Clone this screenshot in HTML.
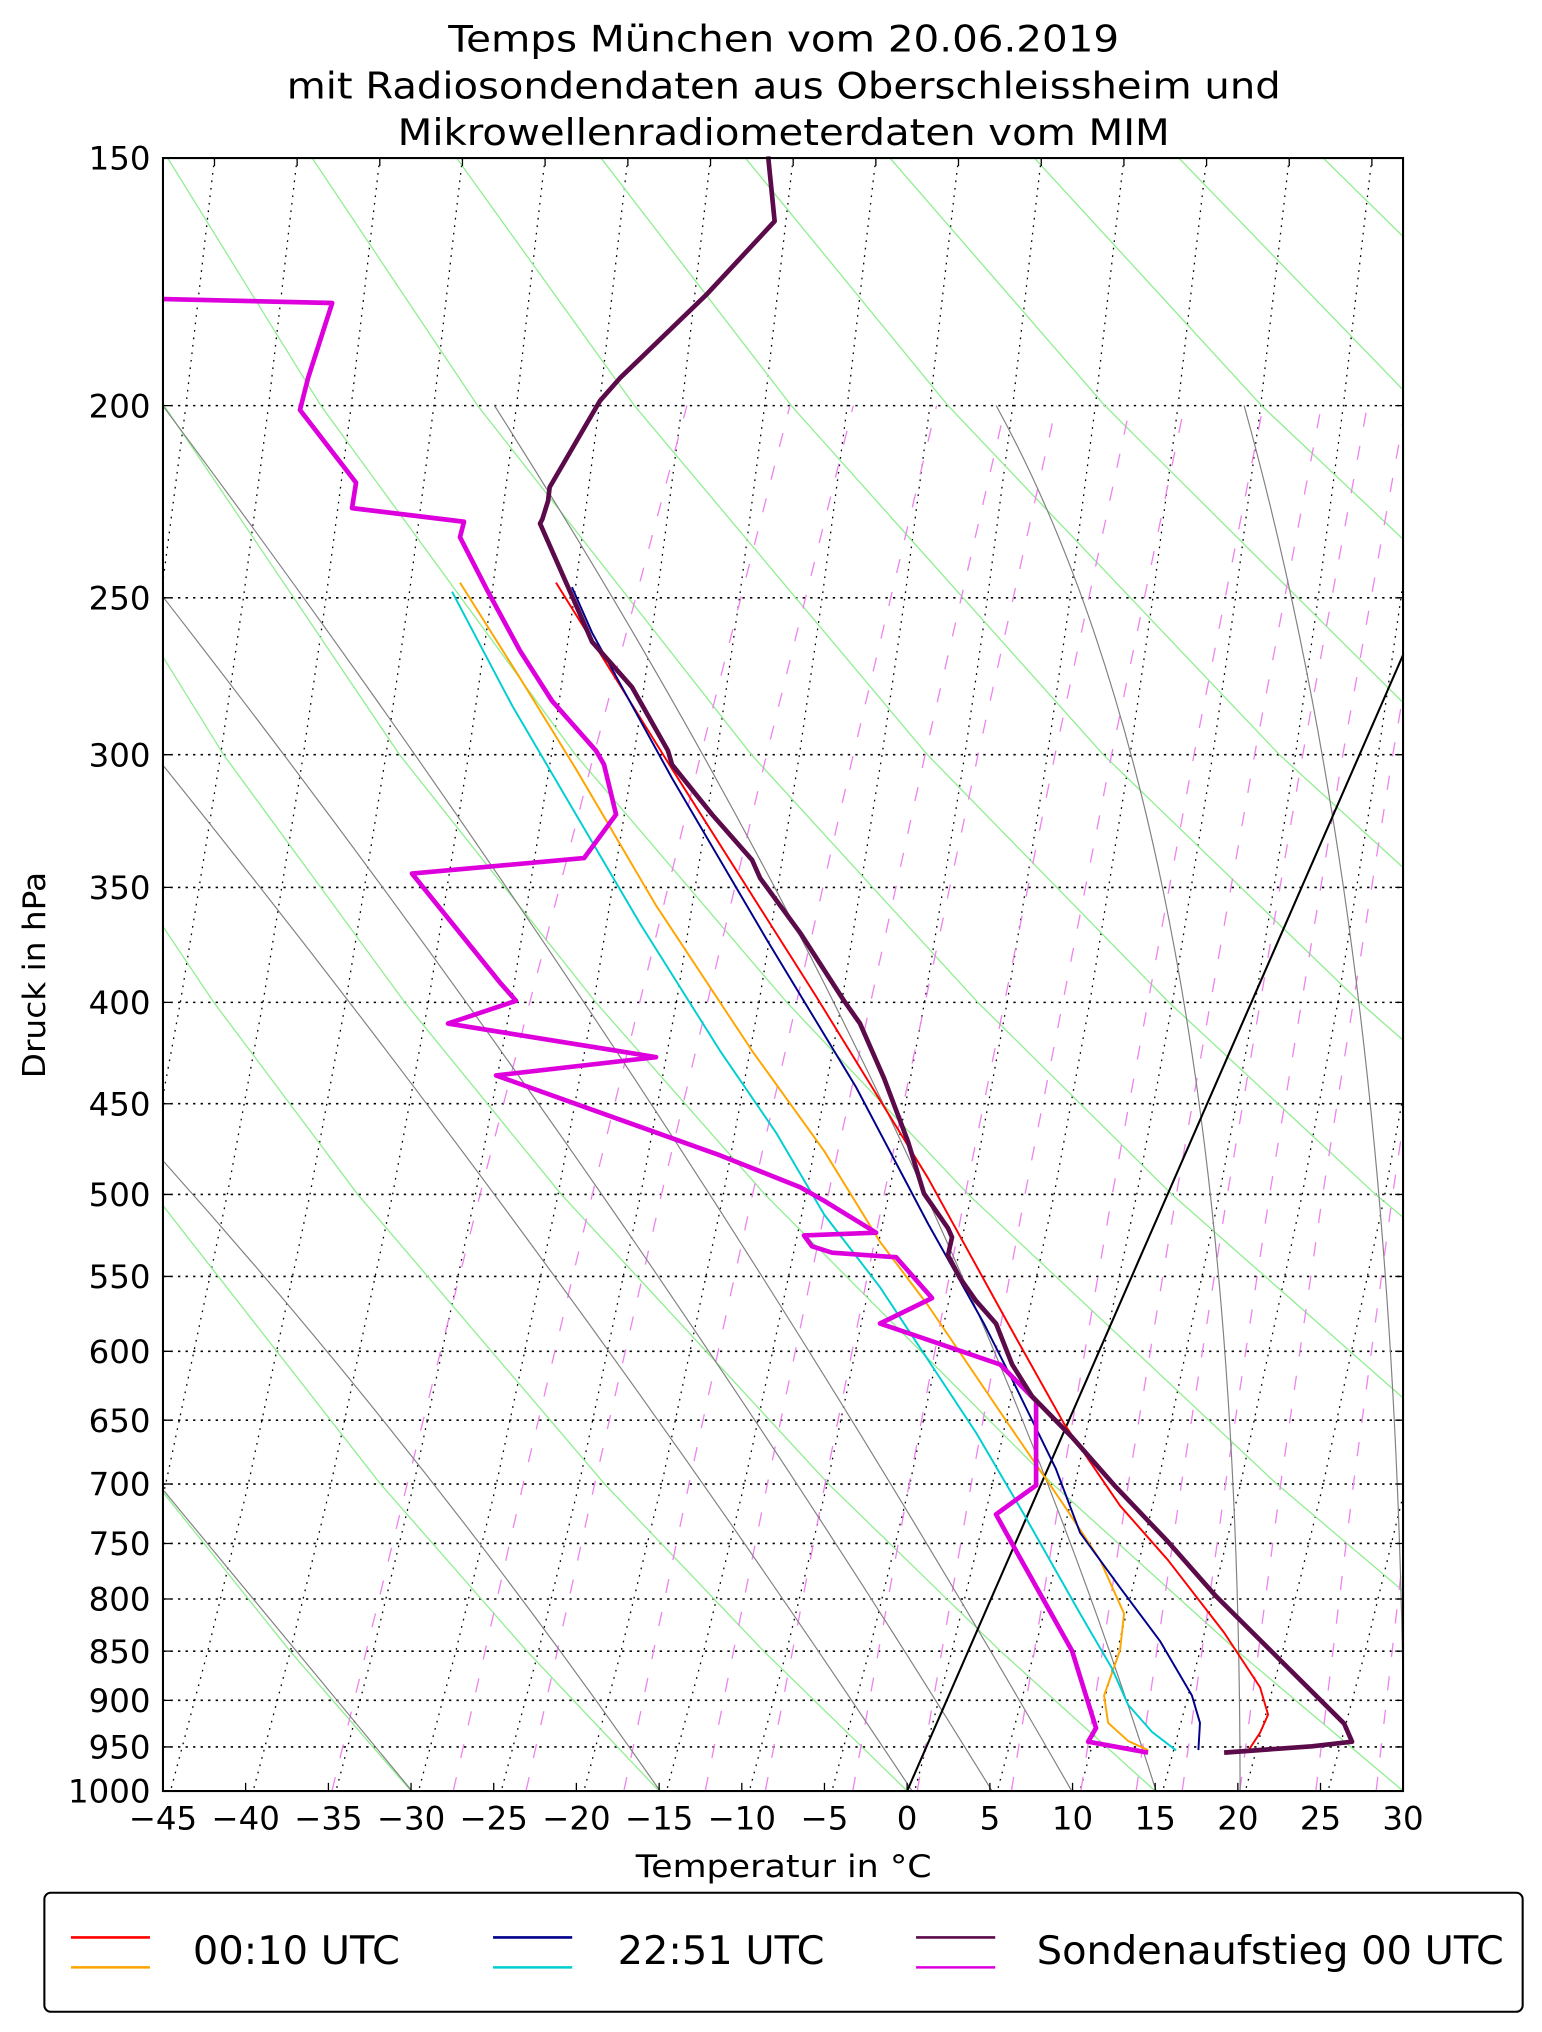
<!DOCTYPE html>
<html><head><meta charset="utf-8"><style>
html,body{margin:0;padding:0;background:#fff;}
svg{display:block;}
text{font-family:"DejaVu Sans","Liberation Sans",sans-serif;fill:#000;}
</style></head><body>
<svg xmlns="http://www.w3.org/2000/svg" xmlns:xlink="http://www.w3.org/1999/xlink" width="1542" height="2032" viewBox="0 0 1188.4 1566" preserveAspectRatio="none">
<defs>
<clipPath id="c"><rect x="125.6" y="121.8" width="955.7" height="1258.5"/></clipPath>
<polyline id="dl" points="0,121.8 -22,312.6 -41.4,460.7 -58.9,581.6 -90,772.5 -117.5,920.5 -165,1143.7 -196.3,1272.5 -225,1380.3" fill="none" stroke="#000" stroke-width="1" stroke-dasharray="1.3,4.5"/>
</defs>
<rect x="0" y="0" width="1188.4" height="1566" fill="#fff"/>
<g clip-path="url(#c)">
<!-- horizontal dotted -->
<g stroke="#000" stroke-width="1.2" stroke-dasharray="1.8,4">
<line x1="125.6" x2="1081.3" y1="312.6" y2="312.6"/><line x1="125.6" x2="1081.3" y1="460.7" y2="460.7"/><line x1="125.6" x2="1081.3" y1="581.6" y2="581.6"/><line x1="125.6" x2="1081.3" y1="683.9" y2="683.9"/><line x1="125.6" x2="1081.3" y1="772.5" y2="772.5"/><line x1="125.6" x2="1081.3" y1="850.6" y2="850.6"/><line x1="125.6" x2="1081.3" y1="920.5" y2="920.5"/><line x1="125.6" x2="1081.3" y1="983.7" y2="983.7"/><line x1="125.6" x2="1081.3" y1="1041.4" y2="1041.4"/><line x1="125.6" x2="1081.3" y1="1094.5" y2="1094.5"/><line x1="125.6" x2="1081.3" y1="1143.7" y2="1143.7"/><line x1="125.6" x2="1081.3" y1="1189.5" y2="1189.5"/><line x1="125.6" x2="1081.3" y1="1232.3" y2="1232.3"/><line x1="125.6" x2="1081.3" y1="1272.5" y2="1272.5"/><line x1="125.6" x2="1081.3" y1="1310.4" y2="1310.4"/><line x1="125.6" x2="1081.3" y1="1346.3" y2="1346.3"/>
</g>
<!-- skewed dotted -->
<use xlink:href="#dl" href="#dl" x="1248.5"/><use xlink:href="#dl" href="#dl" x="1184.8"/><use xlink:href="#dl" href="#dl" x="1121.1"/><use xlink:href="#dl" href="#dl" x="1057.3"/><use xlink:href="#dl" href="#dl" x="993.6"/><use xlink:href="#dl" href="#dl" x="929.9"/><use xlink:href="#dl" href="#dl" x="866.2"/><use xlink:href="#dl" href="#dl" x="802.5"/><use xlink:href="#dl" href="#dl" x="738.7"/><use xlink:href="#dl" href="#dl" x="675.0"/><use xlink:href="#dl" href="#dl" x="611.3"/><use xlink:href="#dl" href="#dl" x="547.6"/><use xlink:href="#dl" href="#dl" x="483.9"/><use xlink:href="#dl" href="#dl" x="420.1"/><use xlink:href="#dl" href="#dl" x="356.4"/><use xlink:href="#dl" href="#dl" x="292.7"/><use xlink:href="#dl" href="#dl" x="229.0"/><use xlink:href="#dl" href="#dl" x="165.3"/>
<!-- green dry adiabats -->
<g fill="none" stroke="#90ee90" stroke-width="1">
<polyline points="316.8,1380.3 223.6,1272.5 120.6,1143.7 -38,920.5"/>
<polyline points="508.0,1380.3 406.1,1272.5 293.3,1143.7 118.8,920.5 17.6,772.5"/>
<polyline points="699.2,1380.3 588.6,1272.5 466.0,1143.7 275.7,920.5 164.8,772.5 36.7,581.6"/>
<polyline points="890.3,1380.3 771.1,1272.5 638.6,1143.7 432.6,920.5 312.0,772.5 172.3,581.6 5.6,312.6"/>
<polyline points="1081.4,1380.3 953.6,1272.5 811.3,1143.7 589.5,920.5 459.2,772.5 307.9,581.6 126.5,312.6 17.9,121.8"/>
<polyline points="1272.6,1380.3 1136.1,1272.5 984.0,1143.7 746.3,920.5 606.4,772.5 443.5,581.6 247.3,312.6 129.2,121.8"/>
<polyline points="1318.6,1272.5 1156.6,1143.7 903.2,920.5 753.6,772.5 579.1,581.6 368.1,312.6 240.6,121.8"/>
<polyline points="1329.3,1143.7 1060.1,920.5 900.9,772.5 714.7,581.6 489.0,312.6 351.9,121.8"/>
<polyline points="1501.9,1143.7 1216.9,920.5 1048.1,772.5 850.3,581.6 609.8,312.6 463.2,121.8"/>
<polyline points="1373.8,920.5 1195.3,772.5 986.0,581.6 730.6,312.6 574.5,121.8"/>
<polyline points="1342.6,772.5 1121.6,581.6 851.5,312.6 685.9,121.8"/>
<polyline points="1257.2,581.6 972.3,312.6 797.2,121.8"/>
<polyline points="1392.8,581.6 1093.1,312.6 908.5,121.8"/>
<polyline points="1213.9,312.6 1019.8,121.8"/>
<polyline points="1334.7,312.6 1131.1,121.8"/>
</g>
<!-- mixing ratio -->
<g fill="none" stroke="#ee82ee" stroke-width="1" stroke-dasharray="11,15">
<polyline points="255.8,1380.3 313.8,1143.7 370.0,920.5 457.7,581.6 529.4,312.6"/>
<polyline points="349.3,1380.3 403.2,1143.7 456.5,920.5 540.1,581.6 608.8,312.6"/>
<polyline points="405.4,1380.3 458.3,1143.7 509.8,920.5 590.8,581.6 657.6,312.6"/>
<polyline points="480.8,1380.3 531.0,1143.7 580.0,920.5 657.6,581.6 721.8,312.6"/>
<polyline points="543.5,1380.3 591.4,1143.7 638.4,920.5 713.0,581.6 775.0,312.6"/>
<polyline points="589.8,1380.3 635.8,1143.7 681.4,920.5 753.8,581.6 814.1,312.6"/>
<polyline points="657.2,1380.3 700.7,1143.7 743.9,920.5 813.1,581.6 871.1,312.6"/>
<polyline points="706.9,1380.3 748.5,1143.7 789.9,920.5 856.7,581.6 912.9,312.6"/>
<polyline points="779.5,1380.3 818.3,1143.7 857.2,920.5 920.2,581.6 973.6,312.6"/>
<polyline points="833.0,1380.3 869.6,1143.7 906.6,920.5 966.9,581.6 1018.4,312.6"/>
<polyline points="875.6,1380.3 910.5,1143.7 945.9,920.5 1004.0,581.6 1053.8,312.6"/>
<polyline points="911.1,1380.3 944.5,1143.7 978.5,920.5 1034.9,581.6 1083.4,312.6"/>
<polyline points="955.5,1380.3 987.0,1143.7 1019.4,920.5 1073.4,581.6 1120.2,312.6"/>
<polyline points="1014.1,1380.3 1043.1,1143.7 1073.3,920.5 1124.2,581.6"/>
<polyline points="1060.6,1380.3 1087.6,1143.7"/>
</g>
<!-- gray -->
<g fill="none" stroke="#808080" stroke-width="0.9">
<path d="M126.4,1149 L317.5,1380.3"/>
<path d="M126.4,895.4 Q330,1123 508.7,1380.3"/>
<path d="M126.4,590.7 Q430,968 703,1380.3"/>
<path d="M126.4,461 Q470,903 764.6,1380.3"/>
<path d="M126.4,313.9 Q510,828 826,1380.3"/>
<path d="M381,312.5 Q723.1,850 891,1380.3"/>
<path d="M767.7,312.5 Q955.7,655 955.7,1380.3"/>
<path d="M958.8,312.5 Q1080.3,751 1082,1380.3"/>
</g>
<line x1="699.1" y1="1380.3" x2="1248.5" y2="121.8" stroke="#000" stroke-width="1.6"/>
</g>
<g clip-path="url(#c)" fill="none" stroke-linejoin="round" transform="translate(0,-1.5)">
<polyline stroke="#ff0000" stroke-width="1.5" points="428.5,450.5 518,594.2 628.9,769.3 715.2,909.4 776.9,1021.5 820,1098.6 863.2,1161.9 900.2,1203.9 943.4,1259.7 971.1,1301.8 977.3,1322.9 971.1,1336.9 961.9,1350.9"/>
<polyline stroke="#ffa500" stroke-width="1.5" points="354.5,450.5 400.8,524.1 443.9,594.2 505.6,699.3 579.6,811.3 635.1,888.4 678.2,958.5 715.2,1007.5 776.9,1098.6 820,1161.6 847.8,1203.7 866.3,1245.1 863.2,1273.2 850.9,1308.2 854,1329.2 869.4,1343.2 884.8,1350.2"/>
<polyline stroke="#00008b" stroke-width="1.5" points="440.8,454 456.3,489.1 517.9,601.2 591.9,727.3 659.8,839.4 715.2,944.5 758.3,1021.5 783,1070.6 813.8,1133.6 832.4,1182.7 863.2,1225 894,1266.2 918.6,1308.2 924.8,1329.2 923.6,1350.2"/>
<polyline stroke="#00ced1" stroke-width="1.5" points="348.4,457.5 394.6,545.1 443.9,629.2 493.3,713.3 554.9,811.3 598.1,874.4 635.1,937.4 678.2,993.5 715.2,1049.5 752.2,1105.6 789.2,1168.6 832.4,1245.1 857,1287.3 869.4,1315.3 887.9,1336.3 906.4,1350.4"/>
<polyline stroke="#dd00dd" stroke-width="3.6" points="126,232 256,235 237.4,292.9 231.2,317.4 274.4,373.5 271.3,393.1 357.6,403.6 354.5,415.5 376.1,457.5 400.8,503.1 425.4,541.6 459.4,580.1 465.5,590.7 474.8,629.2 450.1,662.8 317.5,674.7 385.4,758.8 397.7,772.8 345.3,790.3 505.6,816.2 382.3,830.3 554.9,891.9 616.6,916.4 635.1,926.9 675.2,951.5 619.6,953.6 625.8,962 641.3,966.9 690.6,970.4 718.3,1001.9 678.2,1021.5 770.7,1053 798.5,1081.1 798.5,1146.2 767.6,1168.6 783.1,1196.7 826.2,1273.7 844.7,1333.3 838.6,1343.8 884.8,1352.2"/>
<polyline stroke="#5b0a4a" stroke-width="3.6" points="592,122 597,172 545,228 477.8,292.9 462.4,310.4 423.6,377 422.4,387.5 418,401.5 416.2,405 444,468 456.3,496.1 487.1,531.1 514.8,580.1 517.9,590.7 548.8,629.2 579.6,664.2 585.8,678.2 616.6,720.3 650.5,772.8 662.8,790.3 681.3,832.4 699.8,881.4 712.1,921.3 730.6,948 733.7,955 730.6,969 739.9,986.5 752.2,1004 767.6,1021.5 780,1053 795.4,1077.6 826.2,1109.1 860.1,1147.6 900.2,1189.7 937.2,1231.7 986.5,1280.7 1035.9,1329.8 1042,1343.8 1011.2,1347.3 943.4,1352.2"/>
</g>
<rect x="125.6" y="121.8" width="955.7" height="1258.5" fill="none" stroke="#000" stroke-width="1.6"/>
<g stroke="#000" stroke-width="1">
<line x1="189.3" y1="1380.3" x2="189.3" y2="1374"/><line x1="253.1" y1="1380.3" x2="253.1" y2="1374"/><line x1="316.8" y1="1380.3" x2="316.8" y2="1374"/><line x1="380.5" y1="1380.3" x2="380.5" y2="1374"/><line x1="444.2" y1="1380.3" x2="444.2" y2="1374"/><line x1="508" y1="1380.3" x2="508" y2="1374"/><line x1="571.7" y1="1380.3" x2="571.7" y2="1374"/><line x1="635.4" y1="1380.3" x2="635.4" y2="1374"/><line x1="699.1" y1="1380.3" x2="699.1" y2="1374"/><line x1="762.9" y1="1380.3" x2="762.9" y2="1374"/><line x1="826.6" y1="1380.3" x2="826.6" y2="1374"/><line x1="890.3" y1="1380.3" x2="890.3" y2="1374"/><line x1="954" y1="1380.3" x2="954" y2="1374"/><line x1="1017.7" y1="1380.3" x2="1017.7" y2="1374"/>
<line x1="1057.3" y1="121.8" x2="1057.3" y2="128"/><line x1="993.6" y1="121.8" x2="993.6" y2="128"/><line x1="929.9" y1="121.8" x2="929.9" y2="128"/><line x1="866.2" y1="121.8" x2="866.2" y2="128"/><line x1="802.5" y1="121.8" x2="802.5" y2="128"/><line x1="738.7" y1="121.8" x2="738.7" y2="128"/><line x1="675" y1="121.8" x2="675" y2="128"/><line x1="611.3" y1="121.8" x2="611.3" y2="128"/><line x1="547.6" y1="121.8" x2="547.6" y2="128"/><line x1="483.9" y1="121.8" x2="483.9" y2="128"/><line x1="420.1" y1="121.8" x2="420.1" y2="128"/><line x1="356.4" y1="121.8" x2="356.4" y2="128"/><line x1="292.7" y1="121.8" x2="292.7" y2="128"/><line x1="229" y1="121.8" x2="229" y2="128"/><line x1="165.3" y1="121.8" x2="165.3" y2="128"/>
</g>
<g stroke="#000" stroke-width="1">
<path d="M125.6,312.6h6M125.6,460.7h6M125.6,581.6h6M125.6,683.9h6M125.6,772.5h6M125.6,850.6h6M125.6,920.5h6M125.6,983.7h6M125.6,1041.4h6M125.6,1094.5h6M125.6,1143.7h6M125.6,1189.5h6M125.6,1232.3h6M125.6,1272.5h6M125.6,1310.4h6M125.6,1346.3h6"/>
<path d="M1081.3,312.6h-6M1081.3,460.7h-6M1081.3,581.6h-6M1081.3,683.9h-6M1081.3,772.5h-6M1081.3,850.6h-6M1081.3,920.5h-6M1081.3,983.7h-6M1081.3,1041.4h-6M1081.3,1094.5h-6M1081.3,1143.7h-6M1081.3,1189.5h-6M1081.3,1232.3h-6M1081.3,1272.5h-6M1081.3,1310.4h-6M1081.3,1346.3h-6"/>
</g>
<text x="604" y="39.8" font-size="28" text-anchor="middle" textLength="517" lengthAdjust="spacingAndGlyphs">Temps München vom 20.06.2019</text>
<text x="604" y="75.8" font-size="28" text-anchor="middle" textLength="766" lengthAdjust="spacingAndGlyphs">mit Radiosondendaten aus Oberschleissheim und</text>
<text x="604" y="111.8" font-size="28" text-anchor="middle" textLength="595" lengthAdjust="spacingAndGlyphs">Mikrowellenradiometerdaten vom MIM</text>
<text x="604" y="1446.4" font-size="24" text-anchor="middle" textLength="228" lengthAdjust="spacingAndGlyphs">Temperatur in °C</text>
<text transform="translate(34.5,751.5) rotate(-90)" font-size="24" text-anchor="middle" textLength="159" lengthAdjust="spacingAndGlyphs">Druck in hPa</text>
<rect x="34.2" y="1458.7" width="1139.3" height="91.7" rx="5" ry="5" fill="#fff" stroke="#000" stroke-width="1.6"/>
<g stroke-width="2">
<line x1="54.7" y1="1493.1" x2="115.6" y2="1493.1" stroke="#ff0000"/>
<line x1="54.7" y1="1516.2" x2="115.6" y2="1516.2" stroke="#ffa500"/>
<line x1="380" y1="1493.1" x2="441" y2="1493.1" stroke="#00008b"/>
<line x1="380" y1="1516.2" x2="441" y2="1516.2" stroke="#00ced1"/>
<line x1="706" y1="1493.1" x2="767" y2="1493.1" stroke="#5b0a4a"/>
<line x1="706" y1="1516.2" x2="767" y2="1516.2" stroke="#dd00dd"/>
</g>
<text x="148.7" y="1513.7" font-size="30.5" textLength="159.5" lengthAdjust="spacingAndGlyphs">00:10 UTC</text>
<text x="476" y="1513.7" font-size="30.5" textLength="159.5" lengthAdjust="spacingAndGlyphs">22:51 UTC</text>
<text x="799" y="1513.7" font-size="30.5" textLength="360" lengthAdjust="spacingAndGlyphs">Sondenaufstieg 00 UTC</text>
<g font-size="25" text-anchor="middle">
<text x="125.6" y="1410">−45</text><text x="189.3" y="1410">−40</text><text x="253.1" y="1410">−35</text><text x="316.8" y="1410">−30</text><text x="380.5" y="1410">−25</text><text x="444.2" y="1410">−20</text><text x="508" y="1410">−15</text><text x="571.7" y="1410">−10</text><text x="635.4" y="1410">−5</text><text x="699.1" y="1410">0</text><text x="762.9" y="1410">5</text><text x="826.6" y="1410">10</text><text x="890.3" y="1410">15</text><text x="954" y="1410">20</text><text x="1017.7" y="1410">25</text><text x="1081.3" y="1410">30</text>
</g>
<g font-size="25" text-anchor="end">
<text x="116" y="130.8">150</text><text x="116" y="321.6">200</text><text x="116" y="469.7">250</text><text x="116" y="590.6">300</text><text x="116" y="692.9">350</text><text x="116" y="781.5">400</text><text x="116" y="859.6">450</text><text x="116" y="929.5">500</text><text x="116" y="992.7">550</text><text x="116" y="1050.4">600</text><text x="116" y="1103.5">650</text><text x="116" y="1152.7">700</text><text x="116" y="1198.5">750</text><text x="116" y="1241.3">800</text><text x="116" y="1281.5">850</text><text x="116" y="1319.4">900</text><text x="116" y="1355.3">950</text><text x="116" y="1389.3">1000</text>
</g>
</svg>
</body></html>
